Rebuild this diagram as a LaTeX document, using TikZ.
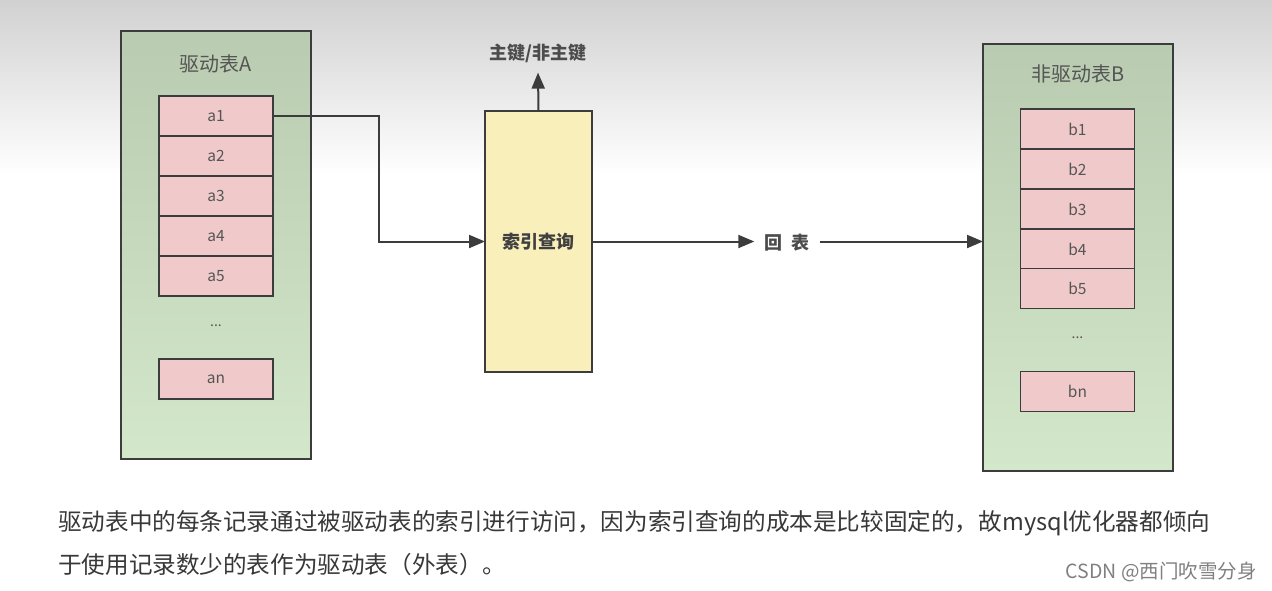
\documentclass[tikz,border=0pt]{standalone}
\usepackage{fontspec}
\setmainfont{Noto Sans CJK SC}
\usetikzlibrary{positioning,arrows.meta}

\definecolor{tabtop}{HTML}{B9CBB0}
\definecolor{tabbot}{HTML}{D3E7CA}
\definecolor{cellpink}{HTML}{F0CACA}
\definecolor{idxyellow}{HTML}{F8EFBA}
\definecolor{edgedark}{HTML}{3C3C3C}
\definecolor{txtgray}{HTML}{555555}

\tikzset{
  tabbox/.style={draw=edgedark, line width=2pt, top color=tabtop, bottom color=tabbot,
    minimum width=190pt, inner sep=0pt, outer sep=0pt},
  cell/.style={draw=edgedark, line width=1.6pt, fill=cellpink, minimum width=114pt,
    minimum height=40pt, inner sep=0pt, outer sep=0pt, text=txtgray, font=\fontsize{15.5}{17}\selectfont},
  title/.style={text=txtgray, font=\fontsize{20}{22}\selectfont},
  dots/.style={text=txtgray, font=\fontsize{14}{16}\selectfont},
  arr/.style={line width=2pt, draw=edgedark, -{Triangle[length=16pt,width=13pt]}},
}

\begin{document}
\begin{tikzpicture}[x=1pt, y=-1pt]
  % background, gray fading to white
  \fill[white] (0,0) rectangle (1272,590);
  \shade[top color=black!18, bottom color=white] (0,0) rectangle (1272,175);
  \useasboundingbox (0,0) rectangle (1272,590);

  % Driving table A
  \node[tabbox, minimum height=428pt] (tabA) at (216,245) {};
  \node[title] (titA) at (216,64) {驱动表A};
  \foreach \i/\y in {1/116,2/156,3/196,4/236,5/276}{
    \node[cell] (a\i) at (216,\y) {a\i};
  }
  \node[dots] (adots) at (216,326) {...};
  \node[cell] (an) at (216,379) {an};

  % Index lookup
  \node[draw=edgedark, line width=2pt, fill=idxyellow, minimum width=107pt,
    minimum height=261pt, inner sep=0pt, outer sep=0pt,
    font=\fontsize{18}{20}\selectfont\bfseries, text=black!75] (idx) at (538.5,241.5) {索引查询};
  \node[font=\fontsize{18}{20}\selectfont\bfseries, text=black!70, inner ysep=10pt] (key) at (538,53) {主键/非主键};

  % Non-driving table B
  \node[tabbox, minimum height=427pt] (tabB) at (1078,257.5) {};
  \node[title] (titB) at (1078,74) {非驱动表B};
  \foreach \i/\y in {1/129,2/169,3/209,4/249,5/288.5}{
    \node[cell] (b\i) at (1077.5,\y) {b\i};
  }
  \node[dots] (bdots) at (1077.5,338) {...};
  \node[cell] (bn) at (1077.5,391.5) {bn};

  % back to table label
  \node[font=\fontsize{18}{20}\selectfont\bfseries, text=black!70, inner xsep=10pt] (back) at (787,243) {回\hspace{0.5em}表};

  % Arrows
  \coordinate (bend) at (379,116);
  \draw[arr] (a1.east) -- (bend) |- (idx.west);
  \draw[arr] (idx.north) -- (key.south);
  \draw[arr] (idx.east) -- (back.west |- idx.east);
  \draw[arr] (back.east |- idx.east) -- (tabB.west |- idx.east);

  % Caption
  \node[anchor=west, text=black!78, font=\fontsize{23.6}{26}\selectfont, inner sep=0pt] (cap1) at (58,523)
    {驱动表中的每条记录通过被驱动表的索引进行访问，因为索引查询的成本是比较固定的，故mysql优化器都倾向};
  \node[anchor=west, text=black!78, font=\fontsize{23.6}{26}\selectfont, inner sep=0pt] (cap2) at (58,565)
    {于使用记录数少的表作为驱动表（外表）。};
  \node[anchor=east, text=black!50, font=\fontsize{19.5}{21}\selectfont, inner sep=0pt] (mark) at (1257,572)
    {CSDN @西门吹雪分身};
\end{tikzpicture}
\end{document}
